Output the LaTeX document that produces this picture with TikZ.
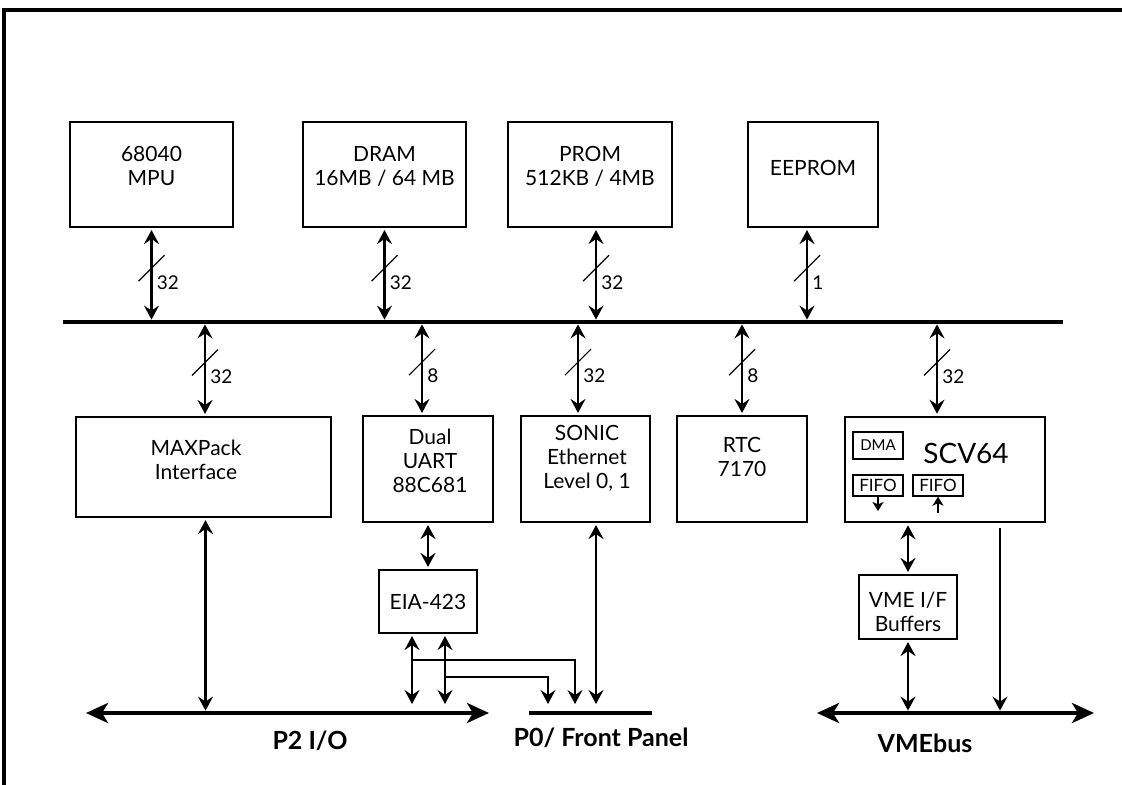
\documentclass[tikz,border=0pt]{standalone}
\usepackage{fontspec}
\setmainfont{Lato}
\usetikzlibrary{arrows.meta}
\tikzset{
  frame/.style={line width=1.6pt, line cap=butt},
  box/.style={draw, line width=0.65pt, inner sep=0pt},
  boxtext/.style={align=center, inner sep=0pt, font=\fontsize{10.5}{12}\selectfont},
  busline/.style={line width=2.2pt, line cap=butt},
  busarrow/.style={line width=2.2pt, {Stealth[length=11pt,width=10pt,inset=3pt]}-{Stealth[length=11pt,width=10pt,inset=3pt]}},
  link/.style={line width=1.2pt, <->, shorten <=1.2pt, shorten >=1.2pt},
  tobus/.style={shorten >=4.5pt},
  branch/.style={line width=0.9pt, ->, shorten >=4.5pt},
  slash/.style={line width=0.6pt},
  buswidth/.style={anchor=west, inner sep=0pt, font=\fontsize{9.5}{10}\selectfont},
  buslabel/.style={inner sep=0pt, font=\fontsize{12.5}{14}\selectfont\bfseries},
  small/.style={line width=1pt, -{Stealth[length=4.5pt,width=5.5pt,inset=1.2pt]}},
}

\begin{document}
\begin{tikzpicture}[x=0.5pt, y=-0.5pt, >={Stealth[length=7pt,width=7.5pt,inset=2.5pt]}]
\useasboundingbox (0,0) rectangle (1122,785);
\draw[frame] (1122,10) -- (4,10) -- (4,785);

% upper row
\node[box, minimum width=81.5pt, minimum height=52.5pt] (mpu) at (151.5,174.5) {};
\node[box, minimum width=81.5pt, minimum height=52.5pt] (dram) at (384.5,174.5) {};
\node[box, minimum width=82pt, minimum height=52.5pt] (prom) at (590,174.5) {};
\node[box, minimum width=65pt, minimum height=52.5pt] (eeprom) at (813,174.5) {};
\node[boxtext] (mputext) at (151.5,166) {68040\\MPU};
\node[boxtext] (dramtext) at (384.5,166) {DRAM\\16MB / 64 MB};
\node[boxtext] (promtext) at (590,166) {PROM\\512KB / 4MB};
\node[boxtext] (eepromtext) at (813,168) {EEPROM};

% local bus
\coordinate (busL) at (63,322);
\coordinate (busR) at (1063,322);
\draw[busline] (busL) -- (busR);

\foreach \n/\dx/\w in {mpu/0/32, dram/0/32, prom/3/32, eeprom/-3/1}{
  \coordinate (t\n) at ([xshift=\dx pt]\n.south);
  \draw[link] (t\n) -- (t\n |- busL) coordinate[pos=.43] (m\n);
  \draw[slash] ([shift={(-13,13)}]m\n) -- ([shift={(13,-13)}]m\n);
  \node[buswidth] (w\n) at ([shift={(5,14)}]m\n) {\w};
}

% lower row
\node[box, minimum width=127.5pt, minimum height=50pt] (maxpack) at (203.5,467) {};
\node[box, minimum width=65pt, minimum height=53pt] (uart) at (428,469) {};
\node[box, minimum width=64.5pt, minimum height=53pt] (sonic) at (585.5,469) {};
\node[box, minimum width=65pt, minimum height=53pt] (rtc) at (742,469) {};
\node[box, line width=0.9pt, minimum width=100pt, minimum height=52.5pt] (scv) at (945,469.5) {};
\node[boxtext] (maxpacktext) at (196,460) {MAXPack\\Interface};
\node[boxtext] (uarttext) at (430,461) {Dual\\UART\\88C681};
\node[boxtext] (sonictext) at (587,458) {SONIC\\Ethernet\\Level 0, 1};
\node[boxtext] (rtctext) at (742,457) {RTC\\7170};

\foreach \n/\dx/\w in {maxpack/0.75/32, uart/-3/8, sonic/-3.75/32, rtc/0/8, scv/-4/32}{
  \coordinate (b\n) at ([xshift=\dx pt]\n.north);
  \draw[link] (b\n |- busL) -- (b\n) coordinate[pos=.43] (m\n);
  \draw[slash] ([shift={(-13,13)}]m\n) -- ([shift={(13,-13)}]m\n);
  \node[buswidth] (w\n) at ([shift={(5,14)}]m\n) {\w};
}

% SCV64 inside
\node[boxtext, font=\fontsize{14}{16}\selectfont] (scvtext) at (966,453) {SCV64};
\node[box, minimum width=25pt, minimum height=13.5pt, font=\fontsize{7.5}{8}\selectfont] (dma) at (878,445.5) {DMA};
\node[box, minimum width=25pt, minimum height=10.5pt, font=\fontsize{8.5}{9}\selectfont] (fifoa) at (878,485.5) {FIFO};
\node[box, minimum width=25pt, minimum height=10.5pt, font=\fontsize{8.5}{9}\selectfont] (fifob) at (938,485.5) {FIFO};
\coordinate (fifoaout) at (878,511);
\coordinate (fifobin) at (938,513);
\draw[small] (fifoa.south) -- (fifoaout);
\draw[small] (fifobin) -- (fifob.south);

% serial and buffers
\node[box, minimum width=49pt, minimum height=31.5pt, font=\fontsize{10.5}{12}\selectfont] (eia) at (428,601.5) {EIA-423};
\node[box, minimum width=49pt, minimum height=32pt] (vmeif) at (908,607) {};
\node[boxtext] (vmeiftext) at (908,612) {VME I/F\\Buffers};

% backplane buses
\coordinate (p2L) at (86,713);
\coordinate (p2R) at (489,713);
\coordinate (p0L) at (529,713);
\coordinate (p0R) at (652,713);
\coordinate (vmeL) at (817,713);
\coordinate (vmeR) at (1094,713);
\draw[busarrow] (p2L) -- (p2R);
\draw[busline] (p0L) -- (p0R);
\draw[busarrow] (vmeL) -- (vmeR);
\node[buslabel] (p2text) at (310,741) {P2 I/O};
\node[buslabel] (p0text) at (601,738) {P0/ Front Panel};
\node[buslabel] (vmetext) at (925,743) {VMEbus};

% connections to the buses
\coordinate (cmax) at ([xshift=1pt]maxpack.south);
\draw[link] (cmax) -- (cmax |- p2L);
\draw[link] (uart.south) -- (eia.north);
\coordinate (eiaA) at ([xshift=-8pt]eia.south);
\coordinate (eiaB) at ([xshift=8.5pt]eia.south);
\draw[link, tobus] (eiaA) -- (eiaA |- p2L);
\draw[link, tobus] (eiaB) -- (eiaB |- p2L);
\coordinate (brA) at (575,660);
\coordinate (brB) at (548,677);
\draw[branch] (eiaA |- brA) -- (brA) -- (brA |- p0L);
\draw[branch] (eiaB |- brB) -- (brB) -- (brB |- p0L);
\coordinate (csonic) at ([xshift=5.25pt]sonic.south);
\draw[link, tobus] (csonic) -- (csonic |- p0L);
\draw[link] (vmeif.north |- scv.south) -- (vmeif.north);
\draw[link] (vmeif.south) -- (vmeif.south |- vmeL);
\coordinate (cscv) at ([xshift=27.5pt]scv.south);
\draw[line width=1.2pt, ->, shorten <=2.5pt, shorten >=1.2pt] (cscv) -- (cscv |- vmeL);
\end{tikzpicture}
\end{document}
